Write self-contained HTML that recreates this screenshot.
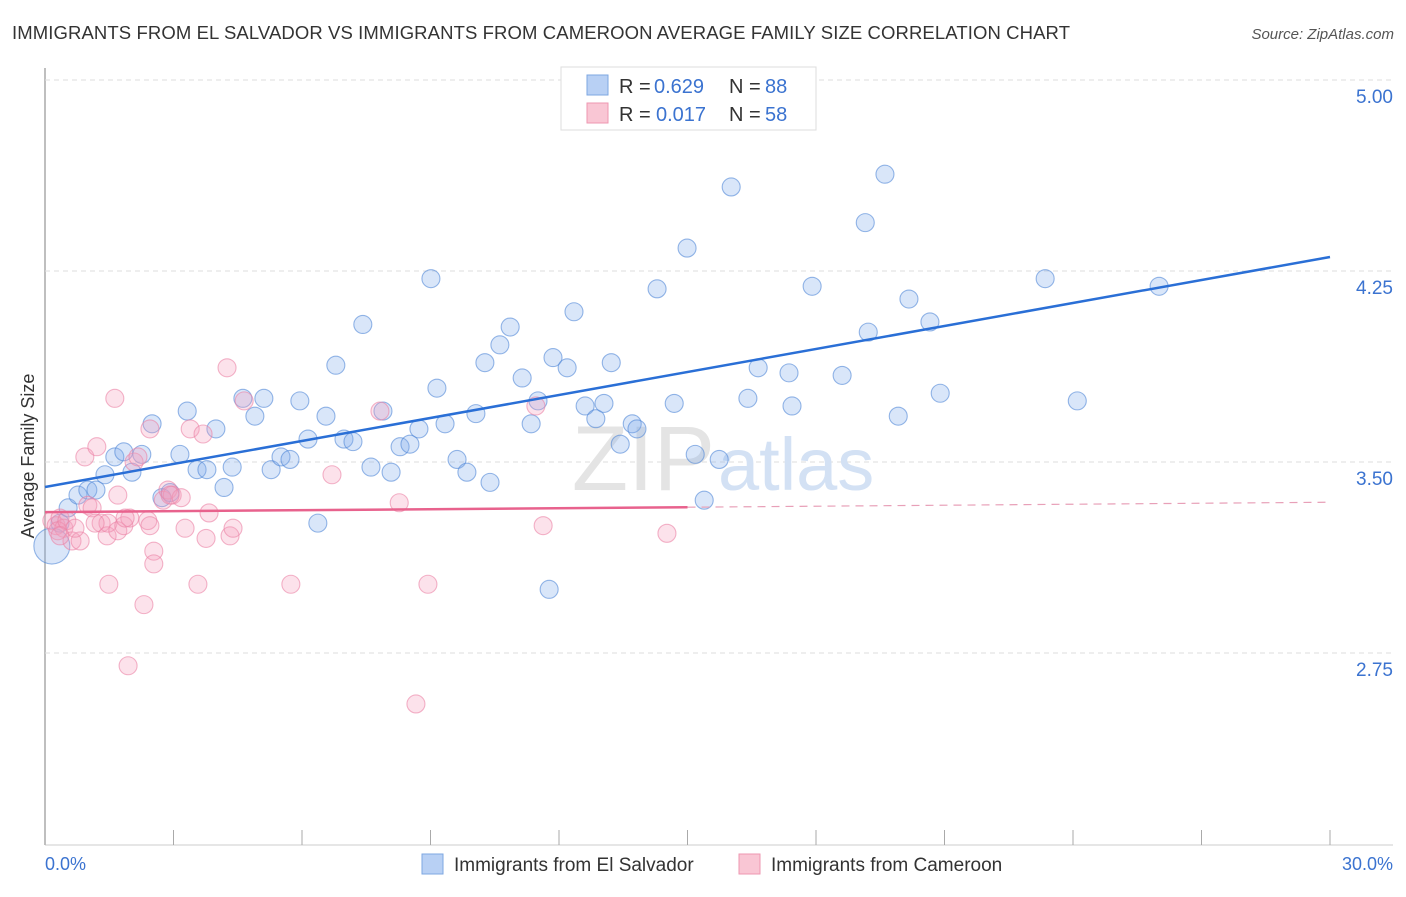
<!DOCTYPE html>
<html><head><meta charset="utf-8"><style>
body{margin:0;background:#fff;font-family:"Liberation Sans",sans-serif;}
svg text{font-family:"Liberation Sans",sans-serif;}
</style></head><body>
<svg id="chart" width="1406" height="892">
<text x="12" y="39" font-size="18.5" fill="#333" textLength="1058">IMMIGRANTS FROM EL SALVADOR VS IMMIGRANTS FROM CAMEROON AVERAGE FAMILY SIZE CORRELATION CHART</text>
<text x="1394" y="39" font-size="15" fill="#555" font-style="italic" text-anchor="end">Source: ZipAtlas.com</text>
<g id="grid"></g>
<text x="715" y="490" font-size="92" fill="#e4e4e4" text-anchor="end" font-family="Liberation Serif">ZIP</text>
<text x="718" y="490" font-size="74" fill="#d3e1f4">atlas</text>
<g id="pts"></g>
<g id="lines"></g>
<text transform="translate(34,456) rotate(-90)" font-size="18" fill="#333" text-anchor="middle">Average Family Size</text>
<g>
<rect x="561" y="67" width="255" height="63" fill="#fff" stroke="#ddd"/>
<rect x="587" y="75" width="21" height="20" fill="#b8d0f4" stroke="#7ea7e2"/>
<rect x="587" y="103" width="21" height="20" fill="#f9c6d4" stroke="#ee97b1"/>
<text x="619" y="93" font-size="20" fill="#333">R =</text>
<text x="654" y="93" font-size="20" fill="#3b73d0">0.629</text>
<text x="729" y="93" font-size="20" fill="#333">N =</text>
<text x="765" y="93" font-size="20" fill="#3b73d0">88</text>
<text x="619" y="121" font-size="20" fill="#333">R =</text>
<text x="656" y="121" font-size="20" fill="#3b73d0">0.017</text>
<text x="729" y="121" font-size="20" fill="#333">N =</text>
<text x="765" y="121" font-size="20" fill="#3b73d0">58</text>
</g>
<rect x="422" y="854" width="21" height="20" fill="#b8d0f4" stroke="#7ea7e2"/>
<text x="454" y="871" font-size="19" fill="#333">Immigrants from El Salvador</text>
<rect x="739" y="854" width="21" height="20" fill="#f9c6d4" stroke="#ee97b1"/>
<text x="771" y="871" font-size="19" fill="#333">Immigrants from Cameroon</text>
<text x="45" y="870" font-size="18" fill="#3b73d0">0.0%</text>
<text x="1393" y="870" font-size="18" fill="#3b73d0" text-anchor="end">30.0%</text>
</svg>
<script>
const yTicks=[5.00,4.25,3.50,2.75];
const blueX=[0.16,0.35,0.54,0.77,1.00,1.19,1.40,1.63,1.84,2.03,2.26,2.50,2.73,2.92,3.15,3.32,3.55,3.78,3.99,4.18,4.37,4.62,4.90,5.11,5.28,5.51,5.72,5.95,6.14,6.37,6.56,6.98,7.19,6.79,7.42,7.61,7.89,8.08,8.29,8.52,8.73,9.01,9.15,9.34,9.62,9.85,10.06,10.27,10.39,10.62,10.86,11.14,11.35,11.51,11.77,11.86,12.19,12.35,12.61,12.86,13.05,13.22,13.43,13.71,13.82,14.29,14.69,14.99,15.18,15.39,15.74,16.02,16.41,16.65,17.37,17.44,17.91,18.61,19.15,19.22,19.61,19.92,20.17,20.66,20.90,23.35,24.10,26.01];
const blueY=[3.17,3.26,3.32,3.37,3.39,3.39,3.45,3.52,3.54,3.46,3.53,3.65,3.36,3.38,3.53,3.70,3.47,3.47,3.63,3.40,3.48,3.75,3.68,3.75,3.47,3.52,3.51,3.74,3.59,3.26,3.68,3.59,3.58,3.88,4.04,3.48,3.70,3.46,3.56,3.57,3.63,4.22,3.79,3.65,3.51,3.46,3.69,3.89,3.42,3.96,4.03,3.83,3.65,3.74,3.00,3.91,3.87,4.09,3.72,3.67,3.73,3.89,3.57,3.65,3.63,4.18,3.73,4.34,3.53,3.35,3.51,4.58,3.75,3.87,3.85,3.72,4.19,3.84,4.44,4.01,4.63,3.68,4.14,4.05,3.77,4.22,3.74,4.19];
const pinkX=[0.16,0.26,0.35,0.44,0.30,0.51,0.63,0.82,0.93,1.00,1.10,1.21,1.31,1.45,1.47,1.49,1.63,1.70,1.70,1.84,1.94,1.98,2.08,2.17,2.31,2.40,2.45,2.54,2.54,2.76,2.87,2.97,3.18,3.27,3.39,3.57,3.69,3.76,3.83,4.25,4.32,4.39,4.65,5.74,6.70,7.82,8.27,8.66,8.94,11.46,11.63,14.52,2.92,1.17,0.70,2.45,1.87,0.35];
const pinkY=[3.27,3.25,3.28,3.24,3.23,3.27,3.19,3.19,3.52,3.33,3.32,3.56,3.26,3.21,3.26,3.02,3.75,3.37,3.23,3.25,2.70,3.28,3.50,3.52,2.94,3.27,3.63,3.15,3.10,3.35,3.39,3.37,3.36,3.24,3.63,3.02,3.61,3.20,3.30,3.87,3.21,3.24,3.74,3.02,3.45,3.70,3.34,2.55,3.02,3.72,3.25,3.22,3.37,3.26,3.24,3.25,3.28,3.21];
const blueTrend=[3.402,4.305];
const pinkTrend=[3.303,3.342];
const NS='http://www.w3.org/2000/svg';
const X=v=>45+v/30*1285;
const Y=v=>80+(5-v)*254.67;
function mk(tag,attrs,parent){const e=document.createElementNS(NS,tag);for(const k in attrs)e.setAttribute(k,attrs[k]);parent.appendChild(e);return e;}
const grid=document.getElementById('grid');
mk('line',{x1:45,y1:68,x2:45,y2:845,stroke:'#aaa','stroke-width':1.5},grid);
mk('line',{x1:45,y1:845,x2:1393,y2:845,stroke:'#ccc'},grid);
for(let i=0;i<=10;i++){const t=mk('line',{x1:X(i*3),y1:830,x2:X(i*3),y2:845,stroke:'#aaa'},grid);

}
yTicks.forEach(v=>{const g=mk('line',{x1:45,y1:Y(v),x2:1393,y2:Y(v),stroke:'#ddd','stroke-dasharray':'5,4'},grid);


const t=mk('text',{x:1393,y:Y(v)+23,'font-size':19,fill:'#3b73d0','text-anchor':'end'},grid);t.textContent=v.toFixed(2);

});
const pts=document.getElementById('pts');
blueX.forEach((v,i)=>{const c=mk('circle',{cx:X(v),cy:Y(blueY[i]),r:i==0?18:9,fill:'rgba(130,172,235,0.3)',stroke:'rgba(80,135,215,0.6)','stroke-width':1.1},pts);

});
pinkX.forEach((v,i)=>{const c=mk('circle',{cx:X(v),cy:Y(pinkY[i]),r:9,fill:'rgba(246,160,188,0.3)',stroke:'rgba(235,130,165,0.6)','stroke-width':1.1},pts);

});
const ln=document.getElementById('lines');
const bl=mk('line',{x1:X(0),y1:Y(blueTrend[0]),x2:X(30),y2:Y(blueTrend[1]),stroke:'#2a6fd6','stroke-width':2.5},ln);


const pm=pinkTrend[0]+(pinkTrend[1]-pinkTrend[0])*0.5;
const pl=mk('line',{x1:X(0),y1:Y(pinkTrend[0]),x2:X(15),y2:Y(pm),stroke:'#e8628d','stroke-width':2.5},ln);


const pd=mk('line',{x1:X(15),y1:Y(pm),x2:X(30),y2:Y(pinkTrend[1]),stroke:'#e8a0b8','stroke-width':1.2,'stroke-dasharray':'8,6'},ln);


</script>
</body></html>
